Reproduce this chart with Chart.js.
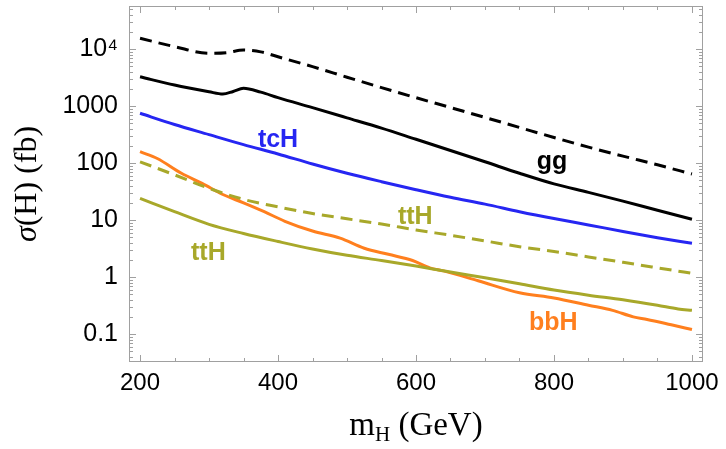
<!DOCTYPE html>
<html><head><meta charset="utf-8">
<script src="https://cdn.jsdelivr.net/npm/chart.js@4.4.0/dist/chart.umd.min.js"></script>
<style>html,body{margin:0;padding:0;background:#fff;}#wrap{width:726px;height:449px;position:relative}</style>
</head><body><div id="wrap"><canvas id="c" width="726" height="449"></canvas></div>
<script>
// ---- data ----
const ggDashMass = [200,250,300,325,350,375,400,450,500,550,600,650,700,750,800,850,900,950,1000];
const ggDashXS   = [15400,11000,8400,8600,9600,8900,7300,4900,3200,2100,1400,940,630,420,280,190,132,93,64];

const ggMass = [200,250,300,320,335,350,375,400,450,500,550,600,650,700,750,800,850,900,950,1000];
const ggXS   = [3250,2330,1780,1620,1800,2040,1750,1400,935,620,410,261,166,105,66,43,30.5,21.4,14.8,10.3];

const tcHMass = [200,250,300,350,400,450,500,550,600,650,700,750,800,850,900,950,1000];
const tcHXS   = [745,473,315,210,144,96,66,47,34,25,19,14,10.6,8.2,6.3,4.9,3.9];

const ttHDashMass = [200,250,300,350,400,450,500,550,600,650,700,750,800,850,900,950,1000];
const ttHDashXS   = [105,62,36,23,17,13,10.5,8.5,6.7,5.4,4.3,3.4,2.8,2.25,1.81,1.45,1.16];

const ttHMass = [200,250,300,350,400,450,500,550,600,650,700,750,800,850,900,950,980,1000];
const ttHXS   = [24,14,8.4,5.8,4.2,3.1,2.4,1.95,1.56,1.22,0.97,0.76,0.59,0.48,0.40,0.32,0.275,0.26];

const bbHMass = [200,225,260,290,320,350,380,410,450,490,525,560,595,620,640,690,750,800,850,885,915,935,970,1000];
const bbHXS   = [158,120,66,44,28,20,14,9.5,6.4,4.8,3.2,2.5,1.95,1.45,1.28,0.86,0.53,0.43,0.32,0.26,0.20,0.18,0.145,0.12];

const xTickValues = [200,400,600,800,1000];
const yTickValues = [0.1,1,10,100,1000,10000];
const yTickLabels = ['0.1','1','10','100','1000','10\u2074'];

const curveLabels = [
  {text:'tcH', x:400, y:252, color:'#2626f2'},
  {text:'gg',  x:797, y:104, color:'#000000'},
  {text:'ttH', x:599, y:11.3, color:'#a8a82a'},
  {text:'ttH', x:299, y:2.6, color:'#a8a82a'},
  {text:'bbH', x:799, y:0.155, color:'#ff7f1e'}
];

const pts = (xs, ys) => xs.map((x,i)=>({x:x, y:ys[i]}));

const frameTicks = {
  id:'frameTicks',
  afterDraw(chart){
    const ctx = chart.ctx, a = chart.chartArea, xs = chart.scales.x, ys = chart.scales.y;
    ctx.save();
    ctx.strokeStyle = '#a0a0a0'; ctx.lineWidth = 1;
    ctx.strokeRect(a.left+0.5, a.top+0.5, a.right-a.left-1, a.bottom-a.top-1);
    ctx.beginPath();
    for (let v=200; v<=1000; v+=50){
      const px = Math.round(xs.getPixelForValue(v))+0.5;
      const len = (v%200===0) ? 7 : 4;
      ctx.moveTo(px, a.bottom); ctx.lineTo(px, a.bottom-len);
      ctx.moveTo(px, a.top); ctx.lineTo(px, a.top+len);
    }
    for (let e=-2; e<=4; e++){
      for (let m=1; m<=9; m++){
        const v = m*Math.pow(10,e);
        if (v < ys.min || v > ys.max) continue;
        const py = Math.round(ys.getPixelForValue(v))+0.5;
        const len = (m===1) ? 7 : 4;
        ctx.moveTo(a.left, py); ctx.lineTo(a.left+len, py);
        ctx.moveTo(a.right, py); ctx.lineTo(a.right-len, py);
      }
    }
    ctx.stroke();
    // curve labels
    ctx.font = 'bold 25px "Liberation Sans", Arial, sans-serif';
    ctx.textAlign = 'center'; ctx.textBaseline = 'middle';
    curveLabels.forEach(l=>{
      ctx.fillStyle = l.color;
      ctx.fillText(l.text, xs.getPixelForValue(l.x), ys.getPixelForValue(l.y));
    });
    // x axis title: m_H (GeV)
    ctx.fillStyle = '#000'; ctx.textAlign = 'left'; ctx.textBaseline = 'alphabetic';
    const serif = '"Liberation Serif", "Times New Roman", serif';
    ctx.font = '33px ' + serif;
    const wM = ctx.measureText('m').width;
    ctx.font = '21px ' + serif;
    const wH = ctx.measureText('H').width;
    ctx.font = '33px ' + serif;
    const wRest = ctx.measureText(' (GeV)').width;
    let x0 = (a.left + a.right)/2 - (wM+wH+wRest)/2;
    const by = 435;
    ctx.fillText('m', x0, by);
    ctx.font = '21px ' + serif;
    ctx.fillText('H', x0+wM, by+6);
    ctx.font = '33px ' + serif;
    ctx.fillText(' (GeV)', x0+wM+wH, by);
    // y axis title: σ(H) (fb)
    ctx.save();
    ctx.translate(36, 184);
    ctx.rotate(-Math.PI/2);
    ctx.font = 'italic 32px ' + serif;
    const wS = ctx.measureText('\u03c3').width;
    ctx.font = '32px ' + serif;
    const wR = ctx.measureText('(H) (fb)').width;
    let sx = -(wS+wR)/2;
    ctx.font = 'italic 32px ' + serif;
    ctx.fillText('\u03c3', sx, 0);
    ctx.font = '32px ' + serif;
    ctx.fillText('(H) (fb)', sx+wS, 0);
    ctx.restore();
    ctx.restore();
  }
};

const common = {pointRadius:0, borderWidth:3, fill:false, cubicInterpolationMode:'monotone', borderCapStyle:'butt'};

new Chart(document.getElementById('c'), {
  type:'line',
  data:{datasets:[
    Object.assign({label:'gg (dashed)', data:pts(ggDashMass, ggDashXS), borderColor:'#000', borderDash:[12,7]}, common),
    Object.assign({label:'gg', data:pts(ggMass, ggXS), borderColor:'#000'}, common),
    Object.assign({label:'tcH', data:pts(tcHMass, tcHXS), borderColor:'#2626f2'}, common),
    Object.assign({label:'ttH (dashed)', data:pts(ttHDashMass, ttHDashXS), borderColor:'#a8a82a', borderDash:[12,7]}, common),
    Object.assign({label:'ttH', data:pts(ttHMass, ttHXS), borderColor:'#a8a82a'}, common),
    Object.assign({label:'bbH', data:pts(bbHMass, bbHXS), borderColor:'#ff7f1e'}, common)
  ]},
  options:{
    responsive:false, animation:false, devicePixelRatio:1,
    layout:{padding:{top:6, right:23, left:0, bottom:0}},
    plugins:{legend:{display:false}, tooltip:{enabled:false}, title:{display:false}},
    scales:{
      x:{type:'linear', min:184, max:1016,
         grid:{display:false, drawTicks:false}, border:{display:false},
         afterBuildTicks:s=>{ s.ticks = xTickValues.map(v=>({value:v})); },
         afterFit:s=>{ s.height = 87; s.paddingLeft = 0; s.paddingRight = 0; },
         ticks:{font:{family:'"Liberation Sans", Arial, sans-serif', size:24}, color:'#000', padding:7, maxRotation:0, autoSkip:false,
                callback:v=>String(v)}},
      y:{type:'logarithmic', min:0.0323, max:56750,
         grid:{display:false, drawTicks:false}, border:{display:false},
         afterBuildTicks:s=>{ s.ticks = yTickValues.map(v=>({value:v})); },
         afterFit:s=>{ s.width = 129; s.paddingTop = 0; s.paddingBottom = 0; },
         ticks:{font:{family:'"Liberation Sans", Arial, sans-serif', size:25}, color:'#000', padding:11, autoSkip:false,
                callback:(v)=>{ const i = yTickValues.indexOf(v); return i>=0 ? yTickLabels[i] : ''; }}}
    }
  },
  plugins:[frameTicks]
});
</script></body></html>
